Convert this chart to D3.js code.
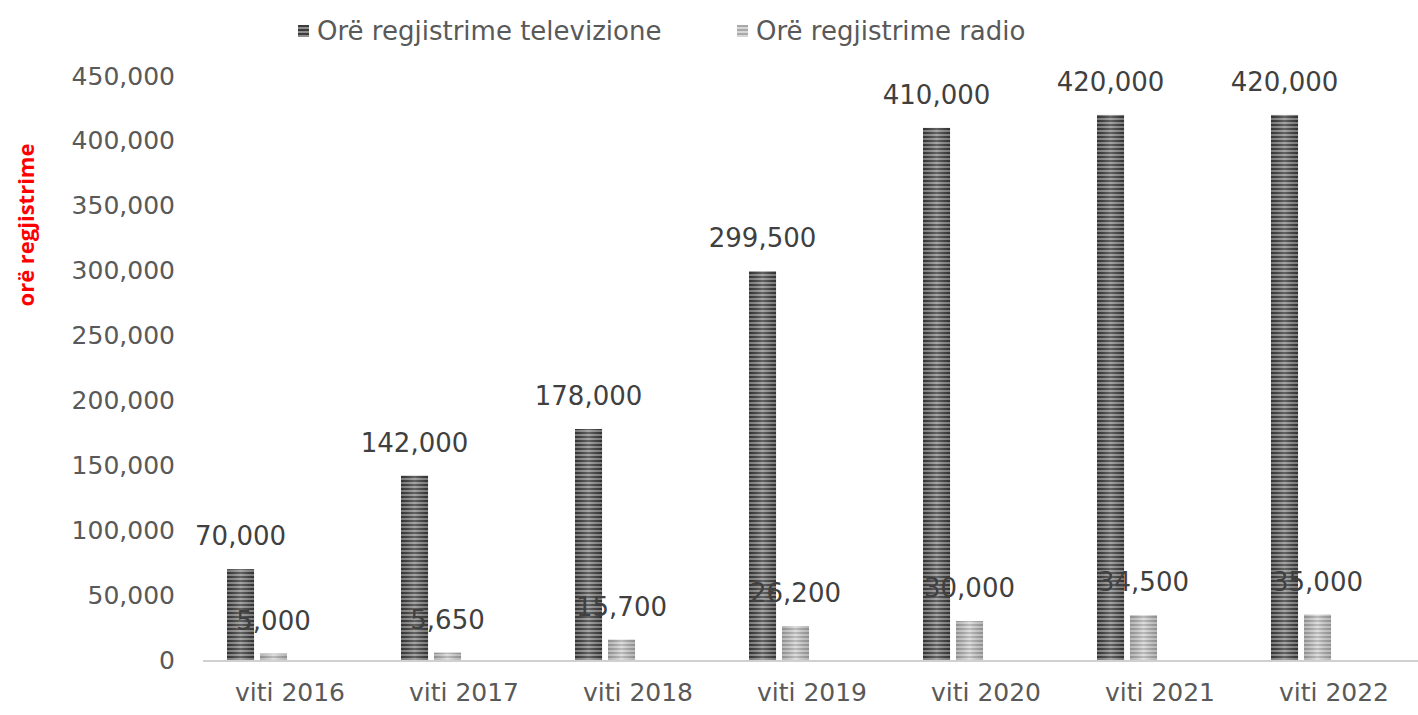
<!DOCTYPE html>
<html>
<head>
<meta charset="utf-8">
<script src="https://cdn.jsdelivr.net/npm/d3@7"></script>
<style>
  body { margin: 0; background: #fff; }
  text { font-family: "DejaVu Sans", sans-serif; }
</style>
</head>
<body>
<div id="chart"></div>
<script>
// data
var categories = ["viti 2016", "viti 2017", "viti 2018", "viti 2019", "viti 2020", "viti 2021", "viti 2022"];
var tvHours = [70000, 142000, 178000, 299500, 410000, 420000, 420000];
var radioHours = [5000, 5650, 15700, 26200, 30000, 34500, 35000];
var seriesNames = ["Orë regjistrime televizione", "Orë regjistrime radio"];
var yTicks = [0, 50000, 100000, 150000, 200000, 250000, 300000, 350000, 400000, 450000];
var yTitle = "orë regjistrime";

var W = 1418, H = 715;
var svg = d3.select("#chart").append("svg")
    .attr("width", W)
    .attr("height", H);

// stripe patterns for the bars
var defs = svg.append("defs");
var tvPat = defs.append("pattern").attr("id", "tvStripe")
    .attr("patternUnits", "userSpaceOnUse").attr("width", 8).attr("height", 4);
tvPat.append("rect").attr("width", 8).attr("height", 4).attr("fill", "#8e8e8e");
tvPat.append("rect").attr("width", 8).attr("height", 2).attr("fill", "#3c3c3c");
var radioPat = defs.append("pattern").attr("id", "radioStripe")
    .attr("patternUnits", "userSpaceOnUse").attr("width", 8).attr("height", 4);
radioPat.append("rect").attr("width", 8).attr("height", 4).attr("fill", "#d6d6d6");
radioPat.append("rect").attr("width", 8).attr("height", 2).attr("fill", "#a9a9a9");
var shine = defs.append("linearGradient").attr("id", "shine")
    .attr("x1", "0%").attr("x2", "100%").attr("y1", "0%").attr("y2", "0%");
shine.append("stop").attr("offset", "0%").attr("stop-color", "#000").attr("stop-opacity", 0.15);
shine.append("stop").attr("offset", "50%").attr("stop-color", "#fff").attr("stop-opacity", 0.2);
shine.append("stop").attr("offset", "100%").attr("stop-color", "#000").attr("stop-opacity", 0.15);

var plotLeft = 203, plotRight = 1421;

// x scales: 4 slots per group, only the first two hold data
var x0 = d3.scaleBand()
    .domain(categories)
    .range([plotLeft, plotRight])
    .padding(0);
var x1 = d3.scaleBand()
    .domain(["tv", "radio", "s3", "s4"])
    .range([24, 150])
    .paddingInner(0.18)
    .paddingOuter(0);

var y = d3.scaleLinear()
    .domain([0, 450000])
    .range([660, 76]);

var fmt = d3.format(",");

// y axis labels
var yAxis = svg.append("g")
    .attr("transform", "translate(" + (plotLeft - 28) + ",0)")
    .call(d3.axisLeft(y).tickValues(yTicks).tickFormat(fmt).tickSize(0).tickPadding(0));
yAxis.select(".domain").remove();
yAxis.selectAll("text")
    .attr("fill", "#595959")
    .style("font-size", "25px")
    .style("font-family", "'DejaVu Sans', sans-serif");

// y title
svg.append("text")
    .attr("transform", "translate(34,225) rotate(-90)")
    .attr("text-anchor", "middle")
    .attr("fill", "#ff0000")
    .style("font-size", "22px")
    .style("font-weight", "bold")
    .style("font-family", "'Open Sans', sans-serif")
    .text(yTitle);

// bars
var groups = svg.selectAll(".grp")
    .data(categories)
    .enter()
    .append("g")
        .attr("class", "grp")
        .attr("transform", function(d) { return "translate(" + x0(d) + ",0)"; });

function drawSeries(key, values, fillId) {
    groups.append("rect")
        .attr("x", x1(key))
        .attr("y", function(d, i) { return y(values[i]); })
        .attr("width", x1.bandwidth())
        .attr("height", function(d, i) { return y(0) - y(values[i]); })
        .attr("fill", "url(#" + fillId + ")");
    groups.append("rect")
        .attr("x", x1(key))
        .attr("y", function(d, i) { return y(values[i]); })
        .attr("width", x1.bandwidth())
        .attr("height", function(d, i) { return y(0) - y(values[i]); })
        .attr("fill", "url(#shine)");
}
drawSeries("tv", tvHours, "tvStripe");
drawSeries("radio", radioHours, "radioStripe");

// x axis line
svg.append("line")
    .attr("x1", plotLeft).attr("x2", plotRight)
    .attr("y1", y(0) + 1).attr("y2", y(0) + 1)
    .attr("stroke", "#d0d0d0")
    .attr("stroke-width", 2);

// category labels
svg.selectAll(".xlab")
    .data(categories)
    .enter()
    .append("text")
        .attr("class", "xlab")
        .attr("x", function(d) { return x0(d) + x0.bandwidth() / 2; })
        .attr("y", 701)
        .attr("text-anchor", "middle")
        .attr("fill", "#595959")
        .style("font-size", "25px")
        .text(function(d) { return d; });

// data labels
function drawLabels(key, values) {
    groups.append("text")
        .attr("x", x1(key) + x1.bandwidth() / 2)
        .attr("y", function(d, i) { return y(values[i]) - 24; })
        .attr("text-anchor", "middle")
        .attr("fill", "#404040")
        .style("font-size", "26px")
        .text(function(d, i) { return fmt(values[i]); });
}
drawLabels("tv", tvHours);
drawLabels("radio", radioHours);

// legend
var legendItems = [
    {name: seriesNames[0], fill: "url(#tvStripe)", x: 298},
    {name: seriesNames[1], fill: "url(#radioStripe)", x: 737}
];
var legend = svg.selectAll(".leg")
    .data(legendItems)
    .enter()
    .append("g")
        .attr("class", "leg")
        .attr("transform", function(d) { return "translate(" + d.x + ",25)"; });
legend.append("rect")
    .attr("width", 11).attr("height", 12)
    .attr("fill", function(d) { return d.fill; });
legend.append("text")
    .attr("x", 19)
    .attr("y", 15)
    .attr("fill", "#595959")
    .style("font-size", "26px")
    .text(function(d) { return d.name; });
</script>
</body>
</html>
